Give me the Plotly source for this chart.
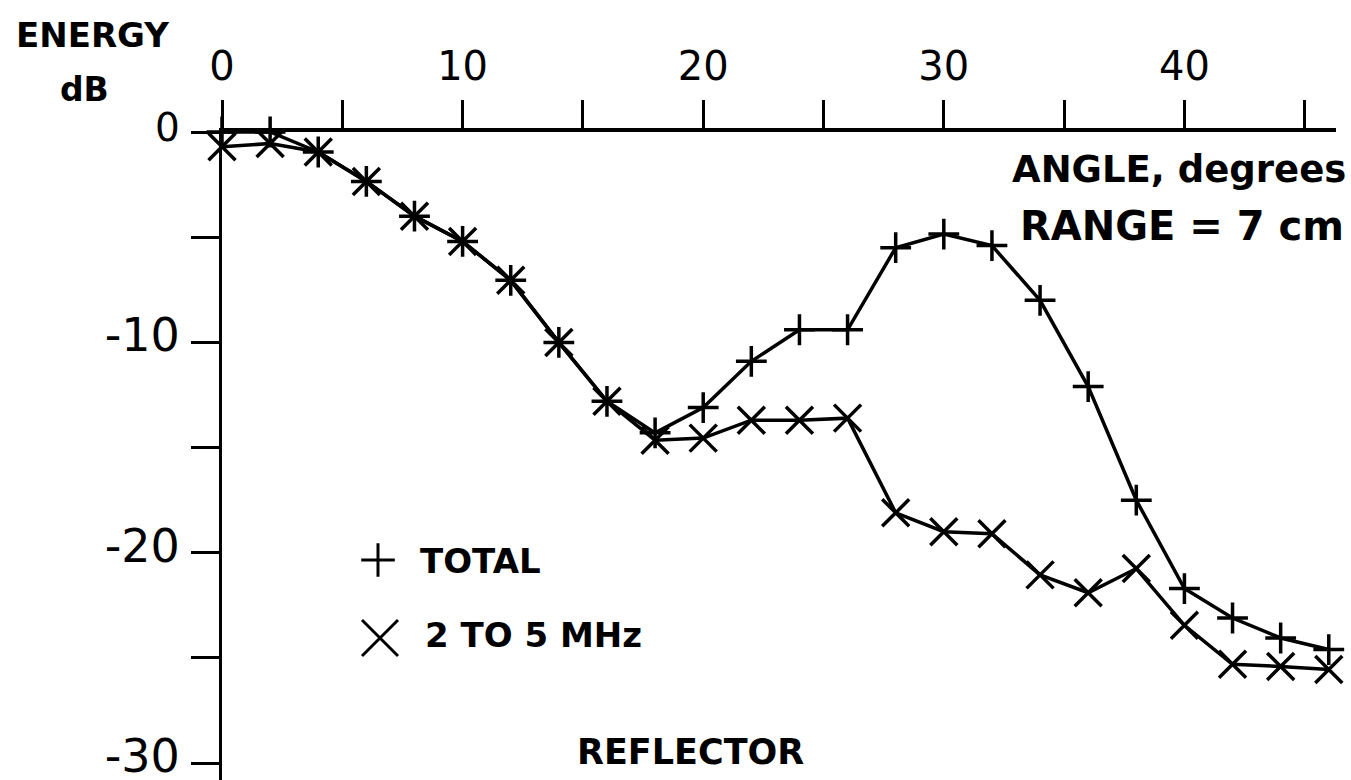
import plotly.graph_objects as go

# ---- data ----
angles = [0, 2, 4, 6, 8, 10, 12, 14, 16, 18, 20, 22, 24, 26, 28, 30, 32, 34, 36, 38, 40, 42, 44, 46]
total_db = [0.0, 0.0, -0.95, -2.35, -4.0, -5.2, -7.05, -10.0, -12.8, -14.3, -13.1, -10.9, -9.4, -9.4,
            -5.5, -4.85, -5.4, -8.0, -12.1, -17.5, -21.7, -23.1, -24.05, -24.6]
band_db = [-0.7, -0.55, -0.95, -2.35, -4.0, -5.2, -7.05, -10.0, -12.8, -14.65, -14.55, -13.7, -13.7, -13.6,
           -18.1, -19.0, -19.1, -21.05, -21.9, -20.75, -23.45, -25.3, -25.4, -25.55]

x_tickvals = [0, 5, 10, 15, 20, 25, 30, 35, 40, 45]
x_ticktext = ["0", "", "10", "", "20", "", "30", "", "40", ""]
y_tickvals = [-30, -25, -20, -15, -10, -5, 0]
y_ticktext = ["-30", "", "-20", "", "-10", "", '<span style="font-size:39px">0</span>']

legend_names = ["TOTAL", "2 TO 5 MHz"]

# ---- layout geometry ----
W, H = 1351, 780
ML, MR, MT, MB = 222, 15, 132, 0
PW, PH = W - ML - MR, H - MT - MB


def paper(px, py):
    return (px - ML) / PW, (H - MB - py) / PH


FONT = "DejaVu Sans"
BLACK = "black"

fig = go.Figure()

fig.add_trace(go.Scatter(
    x=angles, y=total_db, mode="lines+markers", cliponaxis=False, showlegend=False,
    line=dict(color=BLACK, width=3.5),
    marker=dict(symbol="cross-thin", size=22, line=dict(color=BLACK, width=3.5)),
))
fig.add_trace(go.Scatter(
    x=angles, y=band_db, mode="lines+markers", cliponaxis=False, showlegend=False,
    line=dict(color=BLACK, width=3.5),
    marker=dict(symbol="x-thin", size=27, line=dict(color=BLACK, width=3.5)),
))

# legend keys on an overlay (paper-like) axis pair
lx1, ly1 = paper(378, 560)
lx2, ly2 = paper(380, 638)
fig.add_trace(go.Scatter(
    x=[lx1], y=[ly1], xaxis="x2", yaxis="y2", mode="markers", showlegend=False, cliponaxis=False,
    marker=dict(symbol="cross-thin", size=24, line=dict(color=BLACK, width=3)),
))
fig.add_trace(go.Scatter(
    x=[lx2], y=[ly2], xaxis="x2", yaxis="y2", mode="markers", showlegend=False, cliponaxis=False,
    marker=dict(symbol="x-thin", size=36, line=dict(color=BLACK, width=3)),
))

annotations = []


def add_text(text, px, py, size, xanchor="center", bold=True):
    x, y = paper(px, py)
    annotations.append(dict(
        text=text, x=x, y=y, xref="paper", yref="paper", showarrow=False,
        xanchor=xanchor, yanchor="middle",
        font=dict(family=FONT, size=size, color=BLACK, weight="bold" if bold else "normal"),
    ))


add_text("ENERGY", 92, 35, 34)
add_text("dB", 84, 90, 33)
add_text("ANGLE, degrees", 1348, 169, 37, xanchor="right")
add_text("RANGE = 7 cm", 1346, 226, 40, xanchor="right")
add_text(legend_names[0], 418, 561, 34, xanchor="left")
add_text(legend_names[1], 423, 635, 34, xanchor="left")
add_text("REFLECTOR", 690, 752, 35)

fig.update_layout(
    width=W, height=H,
    margin=dict(l=ML, r=MR, t=MT, b=MB, pad=0, autoexpand=False),
    paper_bgcolor="white", plot_bgcolor="white",
    showlegend=False,
    annotations=annotations,
    xaxis=dict(
        range=[0, 46.3], side="top", showline=True, linecolor=BLACK, linewidth=4,
        showgrid=False, zeroline=False, automargin=False,
        tickmode="array", tickvals=x_tickvals, ticktext=x_ticktext,
        ticks="outside", ticklen=28, tickwidth=3, tickcolor=BLACK,
        tickfont=dict(family=FONT, size=40, color=BLACK), ticklabelstandoff=4,
        ticklabeloverflow="allow",
    ),
    yaxis=dict(
        range=[-30.8, 0], showline=True, linecolor=BLACK, linewidth=3,
        showgrid=False, zeroline=False, automargin=False,
        tickmode="array", tickvals=y_tickvals, ticktext=y_ticktext,
        ticks="outside", ticklen=28, tickwidth=3, tickcolor=BLACK,
        tickfont=dict(family=FONT, size=46, color=BLACK), ticklabelstandoff=2,
        ticklabelshift=-7, ticklabeloverflow="allow",
    ),
    xaxis2=dict(range=[0, 1], overlaying="x", visible=False, automargin=False),
    yaxis2=dict(range=[0, 1], overlaying="y", visible=False, automargin=False),
)

fig.write_html("out.html")
